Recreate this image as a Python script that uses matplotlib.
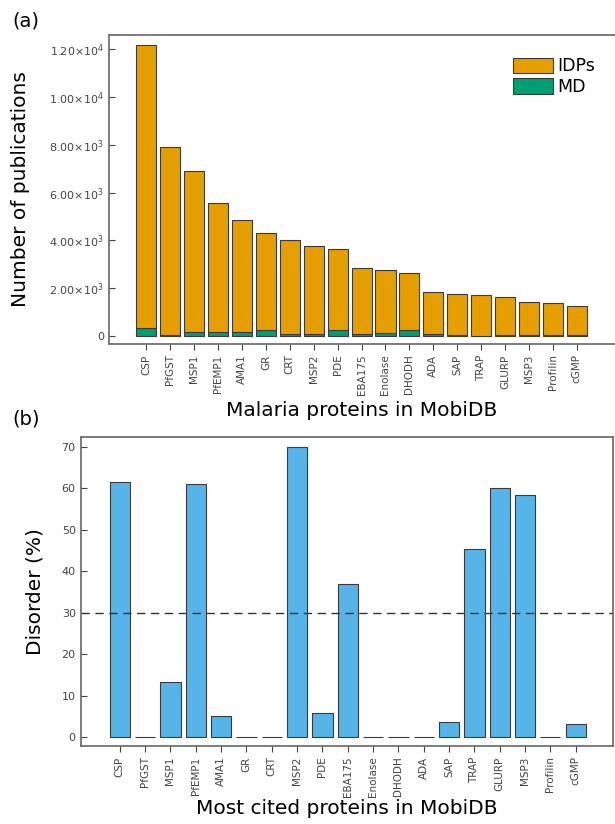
"""Malaria proteins in MobiDB: publications (a) and disorder content (b)."""

import matplotlib

matplotlib.use("Agg")
import matplotlib.pyplot as plt
import numpy as np

proteins = ["CSP", "PfGST", "MSP1", "PfEMP1", "AMA1", "GR", "CRT", "MSP2", "PDE",
            "EBA175", "Enolase", "DHODH", "ADA", "SAP", "TRAP", "GLURP", "MSP3",
            "Profilin", "cGMP"]

# total publications per protein (IDPs bar height) and the MD share at the bottom
idp_total = [12200, 7900, 6900, 5550, 4850, 4300, 4000, 3780, 3650,
             2850, 2750, 2650, 1850, 1750, 1700, 1620, 1400, 1380, 1260]
md_pubs = [330, 20, 150, 180, 160, 250, 60, 60, 250,
           80, 140, 250, 80, 50, 10, 20, 20, 50, 50]

disorder_pct = [61.5, 0, 13.2, 61.0, 5.0, 0, 0, 70.0, 5.8,
                36.8, 0, 0, 0, 3.7, 45.3, 60.0, 58.4, 0, 3.1]

a_yticks = [0, 2000, 4000, 6000, 8000, 10000, 12000]
a_ylabels = ["0", r"$2.00{\times}10^{3}$", r"$4.00{\times}10^{3}$", r"$6.00{\times}10^{3}$",
             r"$8.00{\times}10^{3}$", r"$1.00{\times}10^{4}$", r"$1.20{\times}10^{4}$"]

ORANGE = "#E69F00"
GREEN = "#009E73"
BLUE = "#56B4E9"
EDGE = "#3a3a3a"
SPINE = "#666666"
TICK = "#444444"

plt.rcParams["font.family"] = "DejaVu Sans"

fig = plt.figure(figsize=(6.15, 8.24), dpi=100)
ax_a = fig.add_axes([0.177, 0.5825, 0.823, 0.375])
ax_b = fig.add_axes([0.131, 0.0947, 0.866, 0.375])

x = np.arange(len(proteins))
idp_top = np.array(idp_total) - np.array(md_pubs)

ax_a.bar(x, md_pubs, width=0.84, color=GREEN, edgecolor=EDGE, linewidth=0.8, label="MD")
ax_a.bar(x, idp_top, bottom=md_pubs, width=0.84, color=ORANGE, edgecolor=EDGE,
         linewidth=0.8, label="IDPs")
ax_a.set_xlim(-1.57, 19.6)
ax_a.set_ylim(-340, 12600)
ax_a.set_yticks(a_yticks)
ax_a.set_yticklabels(a_ylabels)
ax_a.set_ylabel("Number of publications", fontsize=14.5, labelpad=14)
ax_a.set_xlabel("Malaria proteins in MobiDB", fontsize=14.5, labelpad=4)
handles, labels = ax_a.get_legend_handles_labels()
ax_a.legend(handles[::-1], labels[::-1], loc="upper right", bbox_to_anchor=(0.975, 0.95),
            frameon=False, fontsize=12.5, handlelength=2.3, handleheight=1.0,
            handletextpad=0.25, labelspacing=0.15, borderaxespad=0)
ax_a.spines["right"].set_visible(False)

ax_b.bar(x, disorder_pct, width=0.8, color=BLUE, edgecolor=EDGE, linewidth=0.8)
ax_b.axhline(30, color="#333333", linestyle=(0, (6, 4)), linewidth=1.0)
ax_b.set_xlim(-1.55, 19.48)
ax_b.set_ylim(-2.1, 72.3)
ax_b.set_yticks(range(0, 71, 10))
ax_b.set_ylabel("Disorder (%)", fontsize=14.5, labelpad=12)
ax_b.set_xlabel("Most cited proteins in MobiDB", fontsize=14.5, labelpad=1)

for ax in (ax_a, ax_b):
    ax.set_xticks(x)
    ax.set_xticklabels(proteins, rotation=90)
    ax.tick_params(axis="x", direction="out", length=4, labelsize=7.5, colors=TICK)
    ax.tick_params(axis="y", direction="in", length=4, labelsize=8, colors=TICK)
    for side in ax.spines.values():
        side.set_color(SPINE)
        side.set_linewidth(1.2)

fig.text(0.02, 0.975, "(a)", fontsize=14, va="center")
fig.text(0.02, 0.492, "(b)", fontsize=14, va="center")

fig.savefig("out.png", dpi=100)
plt.close(fig)
